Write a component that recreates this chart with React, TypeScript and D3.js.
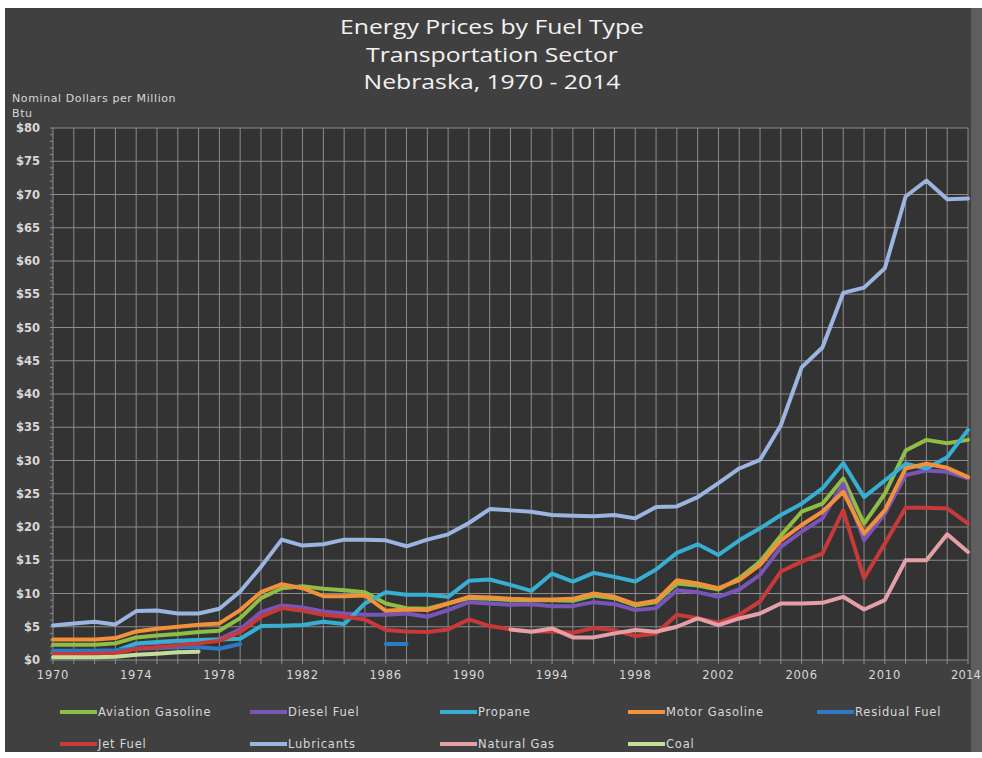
import * as d3 from "d3";

const N = null;

const years = d3.range(1970, 2015);
const yTicks = d3.range(0, 85, 5);
const xLabelYears = d3.range(1970, 2015, 4);

// values per year, 1970 - 2014 ($ per million Btu)
const aviationGasoline = [
    2.3, 2.3, 2.3, 2.5, 3.4, 3.7, 3.9, 4.2, 4.4, 6.3,
    9.3, 10.8, 11.1, 10.7, 10.5, 10.2, 8.5, 7.8, 7.7, 8.5,
    9.3, 9.2, 9.0, 9.0, 9.0, 8.9, 9.7, 9.3, 8.2, 8.7,
    11.5, 11.2, 10.6, 12.3, 14.8, 18.7, 22.3, 23.5, 27.3, 20.5,
    25.0, 31.5, 33.1, 32.6, 33.1,
];
const dieselFuel = [
    1.3, 1.3, 1.3, 1.35, 2.4, 2.6, 2.8, 3.0, 3.1, 4.6,
    7.2, 8.2, 7.9, 7.3, 7.0, 6.8, 6.8, 7.0, 6.5, 7.5,
    8.7, 8.5, 8.3, 8.4, 8.1, 8.1, 8.7, 8.4, 7.5, 7.8,
    10.5, 10.2, 9.5, 10.6, 12.8, 17.0, 19.3, 21.3, 26.5, 18.0,
    22.0, 27.8, 28.5, 28.3, 27.3,
];
const propane = [
    1.3, 1.3, 1.3, 1.35, 2.5, 2.7, 2.9, 3.0, 3.1, 3.2,
    5.1, 5.15, 5.25, 5.75, 5.4, 8.5, 10.2, 9.8, 9.8, 9.5,
    11.9, 12.1, 11.3, 10.4, 13.0, 11.8, 13.1, 12.5, 11.8, 13.6,
    16.1, 17.4, 15.8, 18.0, 19.8, 21.8, 23.5, 25.8, 29.6, 24.5,
    27.0, 29.5, 28.8, 30.5, 34.6,
];
const motorGasoline = [
    3.1, 3.1, 3.1, 3.3, 4.3, 4.7, 5.0, 5.3, 5.5, 7.5,
    10.2, 11.4, 10.8, 9.6, 9.6, 9.7, 7.4, 7.6, 7.5, 8.5,
    9.5, 9.4, 9.2, 9.1, 9.1, 9.2, 10.0, 9.5, 8.4, 8.9,
    12.0, 11.5, 10.8, 12.0, 14.3, 18.0, 20.3, 22.3, 25.3, 19.0,
    22.5, 28.8, 29.5, 28.9, 27.5,
];
const residualFuel = [
    1.4, 1.4, 1.4, 1.45, 1.7, 1.8, 1.9, 1.9, 1.7, 2.4,
    N, N, N, N, N, N, 2.4, 2.4, N, N,
    N, N, N, N, N, N, N, N, N, N,
    N, N, N, N, N, N, N, N, N, N,
    N, N, N, N, N,
];
const jetFuel = [
    0.9, 0.9, 0.95, 1.0, 1.7, 1.9, 2.2, 2.5, 2.9, 4.2,
    6.5, 7.8, 7.4, 6.8, 6.5, 6.1, 4.5, 4.3, 4.2, 4.6,
    6.1, 5.1, 4.6, 4.3, 4.3, 4.1, 4.8, 4.5, 3.6, 4.0,
    6.8, 6.3, 5.6, 6.8, 8.8, 13.3, 14.8, 16.0, 22.5, 12.3,
    17.5, 22.9, 22.9, 22.8, 20.5,
];
const lubricants = [
    5.2, 5.5, 5.75, 5.35, 7.35, 7.45, 7.0, 7.0, 7.7, 10.3,
    14.0, 18.1, 17.2, 17.4, 18.1, 18.1, 18.0, 17.1, 18.1, 18.9,
    20.6, 22.7, 22.5, 22.3, 21.8, 21.7, 21.6, 21.8, 21.3, 23.0,
    23.1, 24.5, 26.6, 28.8, 30.1, 35.3, 44.0, 47.0, 55.2, 56.0,
    58.9, 69.7, 72.1, 69.3, 69.4,
];
const naturalGas = [
    N, N, N, N, N, N, N, N, N, N,
    N, N, N, N, N, N, N, N, N, N,
    N, N, 4.6, 4.25, 4.75, 3.4, 3.4, 4.0, 4.5, 4.25,
    5.0, 6.25, 5.25, 6.25, 7.0, 8.5, 8.5, 8.6, 9.5, 7.6,
    9.0, 15.0, 15.0, 18.9, 16.25,
];
const coal = [
    0.4, 0.4, 0.4, 0.5, 0.8, 0.95, 1.15, 1.25, N, N,
    N, N, N, N, N, N, N, N, N, N,
    N, N, N, N, N, N, N, N, N, N,
    N, N, N, N, N, N, N, N, N, N,
    N, N, N, N, N,
];

const seriesNames = [
    "Aviation Gasoline", "Diesel Fuel", "Propane", "Motor Gasoline", "Residual Fuel",
    "Jet Fuel", "Lubricants", "Natural Gas", "Coal",
];
const seriesValues = [
    aviationGasoline, dieselFuel, propane, motorGasoline, residualFuel,
    jetFuel, lubricants, naturalGas, coal,
];
const seriesColors = [
    "#8fbd45", "#7a55b8", "#36afd2", "#f3903b", "#2f78c4",
    "#c8393a", "#9bb5e0", "#e59fa6", "#c4dd98",
];

const titleLines = ["Energy Prices by Fuel Type", "Transportation Sector", "Nebraska, 1970 - 2014"];

const W = 982;
const H = 758;
const plot = { left: 53, right: 968, top: 128, bottom: 660 };
const axisFont = "'DejaVu Sans', sans-serif";
const textColor = "#d8d8d8";

export default function App() {
    const x = d3.scaleLinear().domain([1970, 2014]).range([plot.left, plot.right]);
    const y = d3.scaleLinear().domain([0, 80]).range([plot.bottom, plot.top]);

    const line = d3
        .line<number | null>()
        .defined((d) => d != null)
        .x((_d, i) => x(years[i]))
        .y((d) => y(d as number));

    const minorTicks = d3.range(0, 81, 1);

    // legend: 5 columns, 2 rows
    const legendCols = [60, 250, 440, 628, 817];
    const legendRows = [712, 744];

    return (
        <svg
            width={W}
            height={H}
            style={{ position: "absolute", left: 0, top: 0, display: "block" }}
        >
            <rect x={0} y={0} width={W} height={H} fill="#ffffff" />
            <rect x={5} y={8} width={W - 5} height={H - 14} fill="#404040" />
            <rect x={971} y={8} width={11} height={H - 14} fill="#5e5e5e" />
            <rect
                x={plot.left}
                y={plot.top}
                width={plot.right - plot.left}
                height={plot.bottom - plot.top}
                fill="#333333"
            />

            {/* title, stretched sideways like the original */}
            {titleLines.map((t, i) => (
                <text
                    key={t}
                    transform={`translate(492,${34 + i * 27.5}) scale(1.27,1)`}
                    textAnchor="middle"
                    fontFamily="'Open Sans', sans-serif"
                    fontSize={19.5}
                    fill="#f2f2f2"
                >
                    {t}
                </text>
            ))}

            <text x={12} y={102} fontFamily={axisFont} fontSize={11} letterSpacing={0.6} fill={textColor}>
                Nominal Dollars per Million
            </text>
            <text x={12} y={117} fontFamily={axisFont} fontSize={11} letterSpacing={0.6} fill={textColor}>
                Btu
            </text>

            {/* grid */}
            <g stroke="#8c8c8c" strokeWidth={1}>
                {years.map((yr) => (
                    <line key={"v" + yr} x1={x(yr)} x2={x(yr)} y1={plot.top} y2={plot.bottom} />
                ))}
                {yTicks.map((v) => (
                    <line key={"h" + v} x1={plot.left} x2={plot.right} y1={y(v)} y2={y(v)} />
                ))}
                {minorTicks.map((v) => (
                    <line key={"m" + v} x1={plot.left - 3} x2={plot.left} y1={y(v)} y2={y(v)} />
                ))}
                {years.map((yr) => (
                    <line key={"xt" + yr} x1={x(yr)} x2={x(yr)} y1={plot.bottom} y2={plot.bottom + 4} />
                ))}
            </g>

            {/* y labels */}
            {yTicks.map((v) => (
                <text
                    key={"yl" + v}
                    x={plot.left - 13}
                    y={y(v) + 4}
                    textAnchor="end"
                    fontFamily={axisFont}
                    fontSize={11.5}
                    fontWeight="bold"
                    fill={textColor}
                >
                    {"$" + v}
                </text>
            ))}

            {/* x labels; the last one sits against the right edge as in the original */}
            {xLabelYears.map((yr) => (
                <text
                    key={"xl" + yr}
                    x={yr === 2014 ? W - 1 : x(yr)}
                    y={679}
                    textAnchor={yr === 2014 ? "end" : "middle"}
                    fontFamily={axisFont}
                    fontSize={11.5}
                    letterSpacing={yr === 2014 ? 0.2 : 0.8}
                    fill={textColor}
                >
                    {yr}
                </text>
            ))}

            {/* series */}
            <g fill="none" strokeWidth={4} strokeLinejoin="round" strokeLinecap="round">
                {seriesValues.map((vals, i) => (
                    <path key={seriesNames[i]} d={line(vals) || ""} stroke={seriesColors[i]} />
                ))}
            </g>

            {/* legend */}
            {seriesNames.map((name, i) => {
                const lx = legendCols[i % 5];
                const ly = legendRows[Math.floor(i / 5)];
                return (
                    <g key={"lg" + name}>
                        <line x1={lx} x2={lx + 37} y1={ly} y2={ly} stroke={seriesColors[i]} strokeWidth={4} />
                        <text
                            x={lx + 38}
                            y={ly + 4}
                            fontFamily={axisFont}
                            fontSize={11.5}
                            letterSpacing={0.8}
                            fill={textColor}
                        >
                            {name}
                        </text>
                    </g>
                );
            })}
        </svg>
    );
}
